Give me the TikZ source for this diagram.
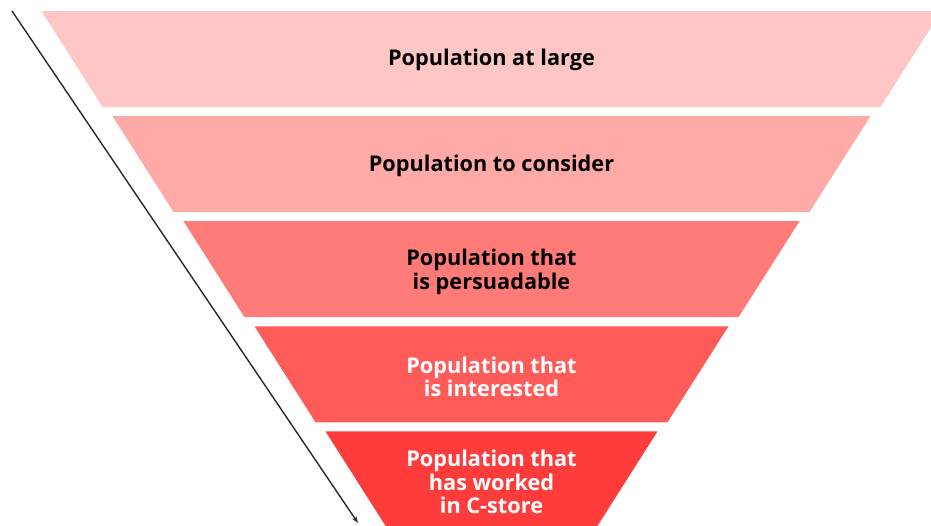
\documentclass[tikz,border=0pt]{standalone}
\usepackage{fontspec}
\setmainfont{Open Sans}
\usetikzlibrary{arrows.meta}
\definecolor{bandA}{RGB}{255,198,198}
\definecolor{bandB}{RGB}{255,170,167}
\definecolor{bandC}{RGB}{255,123,119}
\definecolor{bandD}{RGB}{255,92,89}
\definecolor{bandE}{RGB}{255,60,60}
\definecolor{arrowgray}{RGB}{40,40,40}
\tikzset{
  bandlabel/.style={font=\fontsize{21.7}{23.5}\selectfont\bfseries, align=center, inner sep=0pt},
  darklabel/.style={bandlabel, text=black},
  lightlabel/.style={bandlabel, text=white},
  sidearrow/.style={draw=arrowgray, line width=1.4pt, -{Stealth[length=7pt,width=5pt]}}
}
\begin{document}
\begin{tikzpicture}[x=1pt,y=-1pt]
\useasboundingbox (0,0) rectangle (931,525);
\def\cx{491.5}
\foreach \k/\col in {0/bandA,1/bandB,2/bandC,3/bandD,4/bandE}{
  \pgfmathsetmacro{\yt}{11+105.1*\k}
  \pgfmathsetmacro{\yb}{\yt+96}
  \pgfmathsetmacro{\ht}{450-71*\k}
  \pgfmathsetmacro{\hb}{\ht-61}
  \fill[\col] (\cx-\ht,\yt) -- (\cx+\ht,\yt) -- (\cx+\hb,\yb) -- (\cx-\hb,\yb) -- cycle;
}
\node[darklabel] (l1) at (\cx,60) {Population at large};
\node[darklabel] (l2) at (\cx,166) {Population to consider};
\node[darklabel] (l3) at (\cx,272) {Population that\\is persuadable};
\node[lightlabel] (l4) at (\cx,377) {Population that\\is interested};
\node[lightlabel] (l5) at (\cx,482) {Population that\\has worked\\in C-store};
\coordinate (as) at (12,11);
\coordinate (ae) at (358,523);
\draw[sidearrow] (as) -- (ae);
\end{tikzpicture}
\end{document}
